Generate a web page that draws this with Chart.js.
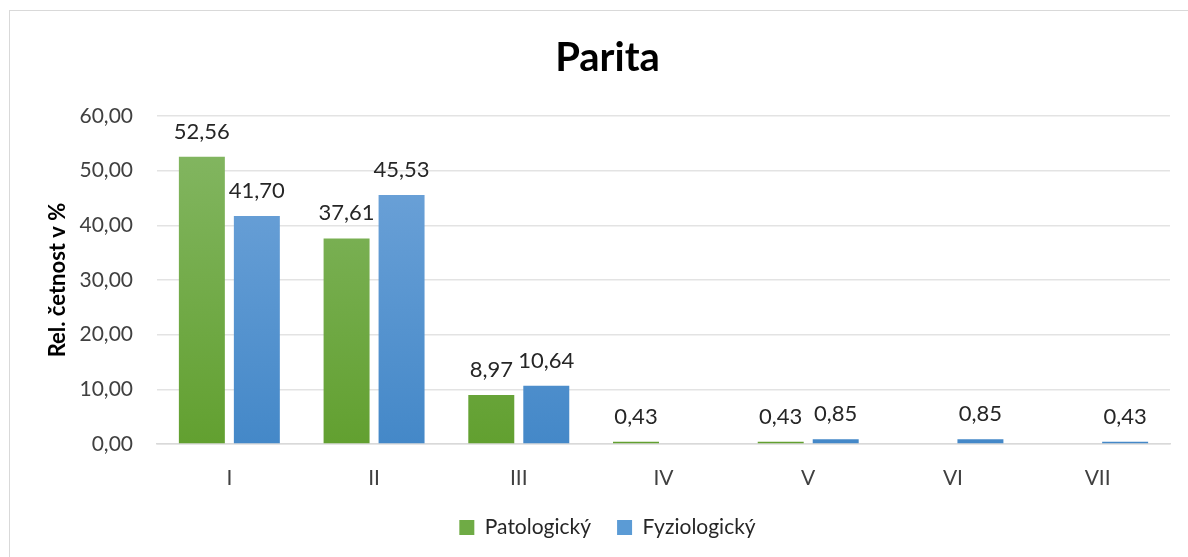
<!DOCTYPE html>
<html>
<head>
<meta charset="utf-8">
<script src="https://cdn.jsdelivr.net/npm/chart.js@4.4.1/dist/chart.umd.min.js"></script>
<style>
    body { margin: 0; background: #fff; }
    #wrap {
        position: absolute;
        left: 9px;
        top: 10px;
        width: 1178px;
        height: 546px;
        border: 1px solid #d9d9d9;
        border-right: none;
        border-bottom: none;
    }
</style>
</head>
<body>
<div id="wrap"><canvas id="chart"></canvas></div>
<script>
// Chart data
const categories = ['I', 'II', 'III', 'IV', 'V', 'VI', 'VII'];
const patologicky = [52.56, 37.61, 8.97, 0.43, 0.43, 0, 0];
const fyziologicky = [41.70, 45.53, 10.64, 0, 0.85, 0.85, 0.43];
const yTicks = [0, 10, 20, 30, 40, 50, 60];

const FONT = 'Lato, "Open Sans", sans-serif';

/**
 * Format number with comma decimals
 */
function formatValue(v) {
    return v.toFixed(2).replace('.', ',');
}

/**
 * Vertical gradient across the chart area
 */
function makeGradient(topColor, bottomColor) {
    return function(context) {
        const chart = context.chart;
        const area = chart.chartArea;
        if (!area) return bottomColor;
        const g = chart.ctx.createLinearGradient(0, area.top, 0, area.bottom);
        g.addColorStop(0, topColor);
        g.addColorStop(1, bottomColor);
        return g;
    };
}

// Draw value labels above bars (skip zeros)
const valueLabels = {
    id: 'valueLabels',
    afterDatasetsDraw(chart) {
        const ctx = chart.ctx;
        ctx.save();
        ctx.font = '22px ' + FONT;
        ctx.fillStyle = '#262626';
        ctx.textAlign = 'center';
        ctx.textBaseline = 'alphabetic';
        chart.data.datasets.forEach((ds, i) => {
            const meta = chart.getDatasetMeta(i);
            meta.data.forEach((bar, j) => {
                const v = ds.data[j];
                if (!v) return;
                ctx.fillText(formatValue(v), bar.x, bar.y - 18);
            });
        });
        ctx.restore();
    }
};

const ctx = document.getElementById('chart').getContext('2d');
new Chart(ctx, {
    type: 'bar',
    data: {
        labels: categories,
        datasets: [{
            label: 'Patologický',
            data: patologicky,
            backgroundColor: makeGradient('#86b866', '#62a030'),
            categoryPercentage: 0.76,
            barPercentage: 0.836
        }, {
            label: 'Fyziologický',
            data: fyziologicky,
            backgroundColor: makeGradient('#74a7db', '#4488c8'),
            categoryPercentage: 0.76,
            barPercentage: 0.836
        }]
    },
    options: {
        responsive: true,
        maintainAspectRatio: false,
        animation: false,
        layout: {
            padding: { left: 35, right: 18, top: 0, bottom: 9 }
        },
        scales: {
            x: {
                grid: { display: false, drawTicks: false },
                border: { color: '#d9d9d9', width: 1.5 },
                ticks: {
                    color: '#404040',
                    font: { family: FONT, size: 21 },
                    padding: 22
                },
                afterFit: function(axis) {
                    axis.height = 47;
                }
            },
            y: {
                min: 0,
                max: 60,
                afterBuildTicks: function(axis) {
                    axis.ticks = yTicks.map(v => ({ value: v }));
                },
                afterFit: function(axis) {
                    axis.width = 112;
                },
                grid: { color: '#e3e3e3', lineWidth: 1.5, drawTicks: false },
                border: { display: false },
                ticks: {
                    color: '#404040',
                    font: { family: FONT, size: 21 },
                    padding: 24,
                    callback: function(value) {
                        return formatValue(value);
                    }
                },
                title: {
                    display: true,
                    text: 'Rel. četnost v %',
                    color: '#000',
                    font: { family: FONT, size: 22, weight: 'bold' },
                    padding: { top: 0, bottom: 9 }
                }
            }
        },
        plugins: {
            title: {
                display: true,
                text: 'Parita',
                color: '#000',
                font: { family: FONT, size: 40, weight: 'bold' },
                padding: { top: 23, bottom: 34 }
            },
            legend: {
                position: 'bottom',
                labels: {
                    color: '#262626',
                    font: { family: FONT, size: 21 },
                    boxWidth: 15,
                    boxHeight: 15,
                    padding: 26,
                    generateLabels: function(chart) {
                        const cols = ['#6fab45', '#5b9bd5'];
                        return chart.data.datasets.map((ds, i) => ({
                            text: ds.label,
                            fillStyle: cols[i],
                            strokeStyle: cols[i],
                            lineWidth: 0,
                            datasetIndex: i,
                            fontColor: '#262626'
                        }));
                    }
                }
            },
            tooltip: { enabled: false }
        }
    },
    plugins: [valueLabels]
});
</script>
</body>
</html>
